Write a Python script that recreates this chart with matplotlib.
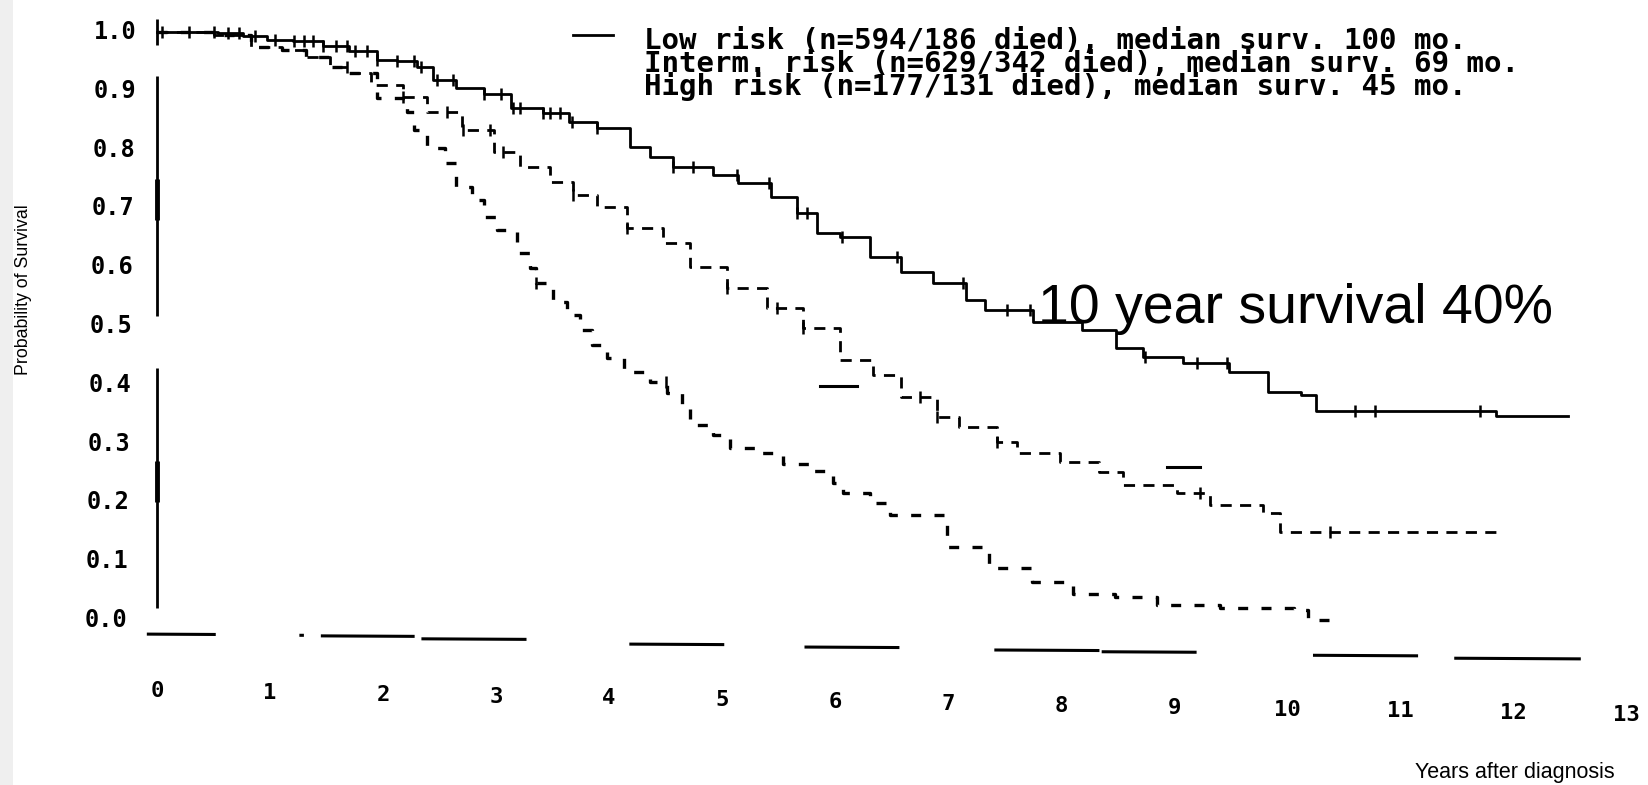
import numpy as np
import matplotlib
matplotlib.use("Agg")
import matplotlib.pyplot as plt
from matplotlib.patches import Rectangle

# ---------------- data ----------------
years_ticks = list(range(0, 14))
prob_ticks = [1.0, 0.9, 0.8, 0.7, 0.6, 0.5, 0.4, 0.3, 0.2, 0.1, 0.0]

low_t = [0.00, 0.54, 0.76, 0.97, 1.20, 1.47, 1.70, 1.95, 2.12, 2.30, 2.44, 2.65,
         2.89, 3.13, 3.42, 3.65, 3.89, 4.19, 4.36, 4.57, 4.92, 5.14, 5.43, 5.66,
         5.84, 6.04, 6.31, 6.58, 6.87, 7.16, 7.33, 7.75, 8.19, 8.49, 8.73, 9.08,
         9.49, 9.83, 10.12, 10.26, 11.85, 12.49]
low_s = [1.000, 0.998, 0.993, 0.986, 0.984, 0.976, 0.968, 0.952, 0.950, 0.940,
         0.918, 0.905, 0.895, 0.871, 0.862, 0.847, 0.836, 0.805, 0.787, 0.770,
         0.757, 0.743, 0.720, 0.692, 0.658, 0.651, 0.617, 0.592, 0.573, 0.544,
         0.527, 0.507, 0.493, 0.463, 0.447, 0.437, 0.422, 0.388, 0.383, 0.356,
         0.347, 0.347]
low_cens = [0.04, 0.28, 0.50, 0.63, 0.73, 0.87, 1.04, 1.21, 1.30, 1.38, 1.47,
            1.58, 1.68, 1.75, 1.86, 1.95, 2.12, 2.27, 2.34, 2.48, 2.62, 2.89,
            3.04, 3.15, 3.21, 3.42, 3.48, 3.57, 3.67, 3.89, 4.57, 4.74, 5.13,
            5.42, 5.66, 5.75, 6.06, 6.55, 7.13, 7.52, 7.73, 8.74, 9.20, 9.47,
            10.60, 10.78, 11.71]

mid_t = [0.00, 0.50, 0.83, 1.11, 1.32, 1.53, 1.70, 1.89, 2.18, 2.39, 2.70, 2.98,
         3.21, 3.48, 3.68, 3.89, 4.16, 4.48, 4.72, 5.04, 5.40, 5.72, 6.04, 6.34,
         6.58, 6.90, 7.10, 7.43, 7.61, 7.99, 8.34, 8.55, 9.03, 9.32, 9.79, 9.94,
         11.86]
mid_s = [1.000, 0.995, 0.975, 0.969, 0.957, 0.940, 0.930, 0.910, 0.889, 0.864,
         0.833, 0.796, 0.770, 0.745, 0.723, 0.702, 0.667, 0.641, 0.600, 0.565,
         0.531, 0.497, 0.442, 0.417, 0.379, 0.345, 0.328, 0.303, 0.284, 0.269,
         0.252, 0.230, 0.216, 0.196, 0.182, 0.150, 0.146]
mid_cens = [1.68, 2.18, 2.57, 2.71, 2.95, 3.06, 3.68, 4.16, 5.04, 5.49, 5.72,
            6.75, 6.90, 7.43, 9.23, 10.38]

high_t = [0.00, 0.50, 0.83, 1.11, 1.32, 1.53, 1.70, 1.95, 2.21, 2.27, 2.39, 2.55,
          2.65, 2.79, 2.89, 3.01, 3.19, 3.30, 3.35, 3.50, 3.63, 3.74, 3.85, 3.98,
          4.13, 4.36, 4.51, 4.65, 4.72, 4.92, 5.07, 5.34, 5.54, 5.80, 5.98, 6.07,
          6.31, 6.49, 6.99, 7.36, 7.74, 8.11, 8.48, 8.85, 9.41, 10.06, 10.19,
          10.48]
high_s = [1.000, 0.995, 0.975, 0.969, 0.957, 0.940, 0.930, 0.888, 0.864, 0.833,
          0.803, 0.777, 0.736, 0.714, 0.685, 0.663, 0.624, 0.599, 0.573, 0.541,
          0.519, 0.493, 0.468, 0.446, 0.422, 0.405, 0.386, 0.361, 0.332, 0.315,
          0.293, 0.284, 0.265, 0.253, 0.233, 0.216, 0.199, 0.179, 0.124, 0.088,
          0.065, 0.044, 0.039, 0.026, 0.020, 0.017, 0.000, 0.000]
high_cens = [3.35, 4.50]

legend_lines = [
    "Low risk (n=594/186 died), median surv. 100 mo.",
    "Interm. risk (n=629/342 died), median surv. 69 mo.",
    "High risk (n=177/131 died), median surv. 45 mo.",
]
note_text = "10 year survival 40%"
ylabel_text = "Probability of Survival"
xlabel_text = "Years after diagnosis"

# ---------------- layout ----------------
W, H = 1649, 785
X0, PX_YEAR = 157.0, 113.0     # pixel column of year 0, pixels per year
Y0, PX_UNIT = 620.0, 588.0     # pixel row of probability 0, pixels per 1.0

MONO = ["DejaVu Sans Mono"]
NARROW = ["Liberation Sans Narrow", "Liberation Sans", "DejaVu Sans"]
SANS = ["Liberation Sans", "DejaVu Sans"]


def px_x(px):
    return (px - X0) / PX_YEAR


def px_y(py):
    return (Y0 - py) / PX_UNIT


fig = plt.figure(figsize=(W / 100, H / 100), dpi=100)
fig.patch.set_facecolor("white")
fig.add_artist(Rectangle((0, 0), 13 / W, 1, transform=fig.transFigure,
                         facecolor="#efefef", edgecolor="none", zorder=-5))

ax = fig.add_axes([0, 0, 1, 1])
ax.set_xlim(px_x(0), px_x(W))
ax.set_ylim(px_y(H), px_y(0))
ax.axis("off")

# ---------------- axes frame (broken, as in the printed figure) ----------------
for y_lo, y_hi in [(0.978, 1.022), (0.517, 0.925), (0.020, 0.429)]:
    ax.plot([0, 0], [y_lo, y_hi], color="black", lw=2.0, solid_capstyle="butt")
for y_lo, y_hi in [(0.68, 0.75), (0.20, 0.27)]:
    ax.plot([0, 0], [y_lo, y_hi], color="black", lw=3.5, solid_capstyle="butt")

bottom_segments = [(-0.09, 0.52, -0.024), (1.26, 1.30, -0.026),
                   (1.45, 2.28, -0.027), (2.34, 3.27, -0.032),
                   (4.18, 5.02, -0.041), (5.73, 6.57, -0.046),
                   (7.41, 8.34, -0.051), (8.36, 9.20, -0.054),
                   (10.23, 11.16, -0.060), (11.48, 12.60, -0.065)]
for x_a, x_b, yy in bottom_segments:
    ax.plot([x_a, x_b], [yy, yy - 0.001 * (x_b - x_a)], color="black",
            lw=2.2, solid_capstyle="butt")

# tick labels
for v in prob_ticks:
    ax.text(px_x(127 + 10 * v), v, f"{v:.1f}", ha="right", va="center",
            fontsize=17, family=MONO, fontweight="bold")
for i in years_ticks:
    ax.text(i, px_y(691 + 1.85 * i), str(i), ha="center", va="center",
            fontsize=16, family=MONO, fontweight="bold")

ax.text(px_x(24), px_y(290), ylabel_text, rotation=90, ha="center",
        va="center", fontsize=12.8, family=NARROW)
ax.text(px_x(1515), px_y(783), xlabel_text, ha="center", va="bottom",
        fontsize=15.5, family=NARROW)

# ---------------- survival curves ----------------
curves = [
    (low_t, low_s, low_cens, "-", 2.0),
    (mid_t, mid_s, mid_cens, (0, (4, 3)), 2.0),
    (high_t, high_s, high_cens, (0, (3, 4)), 2.4),
]
for t, s, cens, ls, lw in curves:
    ax.step(t, s, where="post", color="black", lw=lw, linestyle=ls)
    t_arr, s_arr = np.asarray(t), np.asarray(s)
    idx = np.searchsorted(t_arr, cens, side="right") - 1
    ax.plot(cens, s_arr[idx], linestyle="none", marker="|", markersize=8,
            markeredgewidth=1.8, color="black")

# legend line samples
ax.plot([px_x(573), px_x(613)], [px_y(35), px_y(35)], color="black", lw=2)
ax.plot([px_x(820), px_x(857)], [px_y(386), px_y(386)], color="black", lw=2.2)
ax.plot([px_x(1167), px_x(1200)], [px_y(467), px_y(467)], color="black", lw=2.2)

# legend block: three tightly packed lines
ax.text(px_x(644), px_y(27), "\n".join(legend_lines), ha="left", va="top",
        fontsize=21, family=MONO, fontweight="bold", linespacing=0.75)

ax.text(px_x(1038), px_y(323), note_text, ha="left", va="baseline",
        fontsize=40, family=SANS)

fig.savefig("out.png", dpi=100, facecolor="white")
